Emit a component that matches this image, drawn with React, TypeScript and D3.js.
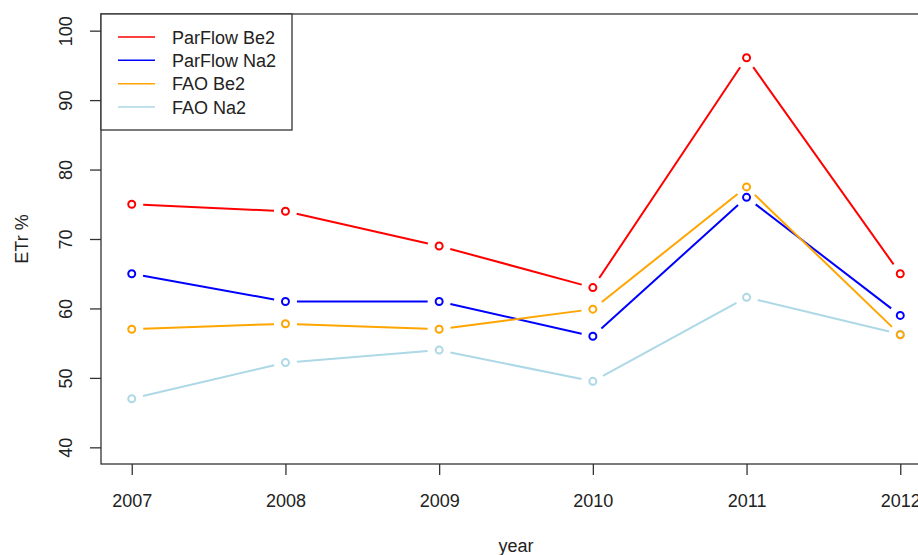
import { useEffect, useRef } from "react";
import * as d3 from "d3";

const years = [2007, 2008, 2009, 2010, 2011, 2012];
const parflowBe2 = [75, 74, 69, 63, 96.1, 65];
const parflowNa2 = [65, 61, 61, 56, 76, 59];
const faoBe2 = [57, 57.8, 57, 59.9, 77.5, 56.2];
const faoNa2 = [47, 52.2, 54, 49.5, 61.6, 56.3];
const yTicks = [40, 50, 60, 70, 80, 90, 100];

const legendItems = [
  { name: "ParFlow Be2", color: "#ff0000" },
  { name: "ParFlow Na2", color: "#0000ff" },
  { name: "FAO Be2", color: "#ffa500" },
  { name: "FAO Na2", color: "#add8e6" },
];

// draw order: lightblue before orange so the orange point sits on top in 2012
const series = [
  { values: parflowBe2, color: "#ff0000" },
  { values: parflowNa2, color: "#0000ff" },
  { values: faoNa2, color: "#add8e6" },
  { values: faoBe2, color: "#ffa500" },
];

const W = 918;
const H = 555;
const FONT = "'Liberation Sans', Arial, sans-serif";

export default function App() {
  const svgRef = useRef<SVGSVGElement>(null);

  useEffect(() => {
    if (!svgRef.current) return;
    const svg = d3.select(svgRef.current);
    svg.selectAll("*").remove();

    const left = 101;
    const right = 931;
    const top = 14;
    const bottom = 464;

    // R style 4% extension around xlim / ylim
    const x = d3.scaleLinear().domain([2006.8, 2012.2]).range([left, right]);
    const y = d3.scaleLinear().domain([37.6, 102.4]).range([bottom, top]);

    const gap = 11.5;
    const r = 3.5;

    series.forEach((s) => {
      const pts = years.map((yr, i) => [x(yr), y(s.values[i])] as [number, number]);
      const segs = d3.pairs(pts).map(([a, b]) => {
        const dx = b[0] - a[0];
        const dy = b[1] - a[1];
        const len = Math.hypot(dx, dy);
        const ux = dx / len;
        const uy = dy / len;
        return [
          [a[0] + ux * gap, a[1] + uy * gap],
          [b[0] - ux * gap, b[1] - uy * gap],
        ] as [number, number][];
      });
      svg
        .append("g")
        .selectAll("path")
        .data(segs)
        .enter()
        .append("path")
        .attr("d", (d) => d3.line()(d))
        .attr("fill", "none")
        .attr("stroke", s.color)
        .attr("stroke-width", 2);

      svg
        .append("g")
        .selectAll("circle")
        .data(pts)
        .enter()
        .append("circle")
        .attr("cx", (d) => d[0])
        .attr("cy", (d) => d[1])
        .attr("r", r)
        .attr("fill", "none")
        .attr("stroke", s.color)
        .attr("stroke-width", 2);
    });

    // plot box
    svg
      .append("rect")
      .attr("x", left)
      .attr("y", top)
      .attr("width", right - left)
      .attr("height", bottom - top)
      .attr("fill", "none")
      .attr("stroke", "#333")
      .attr("stroke-width", 1.3);

    // Y axis
    const yAxis = svg
      .append("g")
      .attr("transform", `translate(${left},0)`)
      .call(d3.axisLeft(y).tickValues(yTicks).tickSize(11));
    yAxis.select(".domain").remove();
    yAxis.selectAll(".tick line").attr("stroke", "#333").attr("stroke-width", 1.3);
    yAxis
      .selectAll(".tick text")
      .attr("x", 0)
      .attr("dy", 0)
      .attr("transform", "translate(-29,0) rotate(-90)")
      .attr("text-anchor", "middle")
      .attr("fill", "#222")
      .style("font-family", FONT)
      .style("font-size", "18px");

    // X axis
    const xAxis = svg
      .append("g")
      .attr("transform", `translate(0,${bottom})`)
      .call(d3.axisBottom(x).tickValues(years).tickSize(11).tickFormat(d3.format("d")));
    xAxis.select(".domain").remove();
    xAxis.selectAll(".tick line").attr("stroke", "#333").attr("stroke-width", 1.3);
    xAxis
      .selectAll(".tick text")
      .attr("y", 43)
      .attr("dy", 0)
      .attr("fill", "#222")
      .style("font-family", FONT)
      .style("font-size", "18px");

    // axis titles
    svg
      .append("text")
      .attr("x", (left + right) / 2)
      .attr("y", 552)
      .attr("text-anchor", "middle")
      .attr("fill", "#222")
      .style("font-family", FONT)
      .style("font-size", "18px")
      .text("year");

    svg
      .append("text")
      .attr("transform", `translate(28,${(top + bottom) / 2}) rotate(-90)`)
      .attr("text-anchor", "middle")
      .attr("fill", "#222")
      .style("font-family", FONT)
      .style("font-size", "18px")
      .text("ETr %");

    // legend
    const lg = svg.append("g");
    lg.append("rect")
      .attr("x", left)
      .attr("y", top)
      .attr("width", 191)
      .attr("height", 116)
      .attr("fill", "#fff")
      .attr("stroke", "#333")
      .attr("stroke-width", 1.3);
    const rowY = d3.scaleLinear().domain([0, 3]).range([37, 107]);
    legendItems.forEach((item, i) => {
      lg.append("line")
        .attr("x1", 118)
        .attr("x2", 155)
        .attr("y1", rowY(i))
        .attr("y2", rowY(i))
        .attr("stroke", item.color)
        .attr("stroke-width", 1.5);
      lg.append("text")
        .attr("x", 172)
        .attr("y", rowY(i) + 6.5)
        .attr("fill", "#222")
        .style("font-family", FONT)
        .style("font-size", "18px")
        .text(item.name);
    });
  }, []);

  return (
    <svg
      ref={svgRef}
      width={W}
      height={H}
      viewBox={`0 0 ${W} ${H}`}
      style={{ position: "absolute", left: 0, top: 0, background: "#fff", display: "block" }}
    />
  );
}
